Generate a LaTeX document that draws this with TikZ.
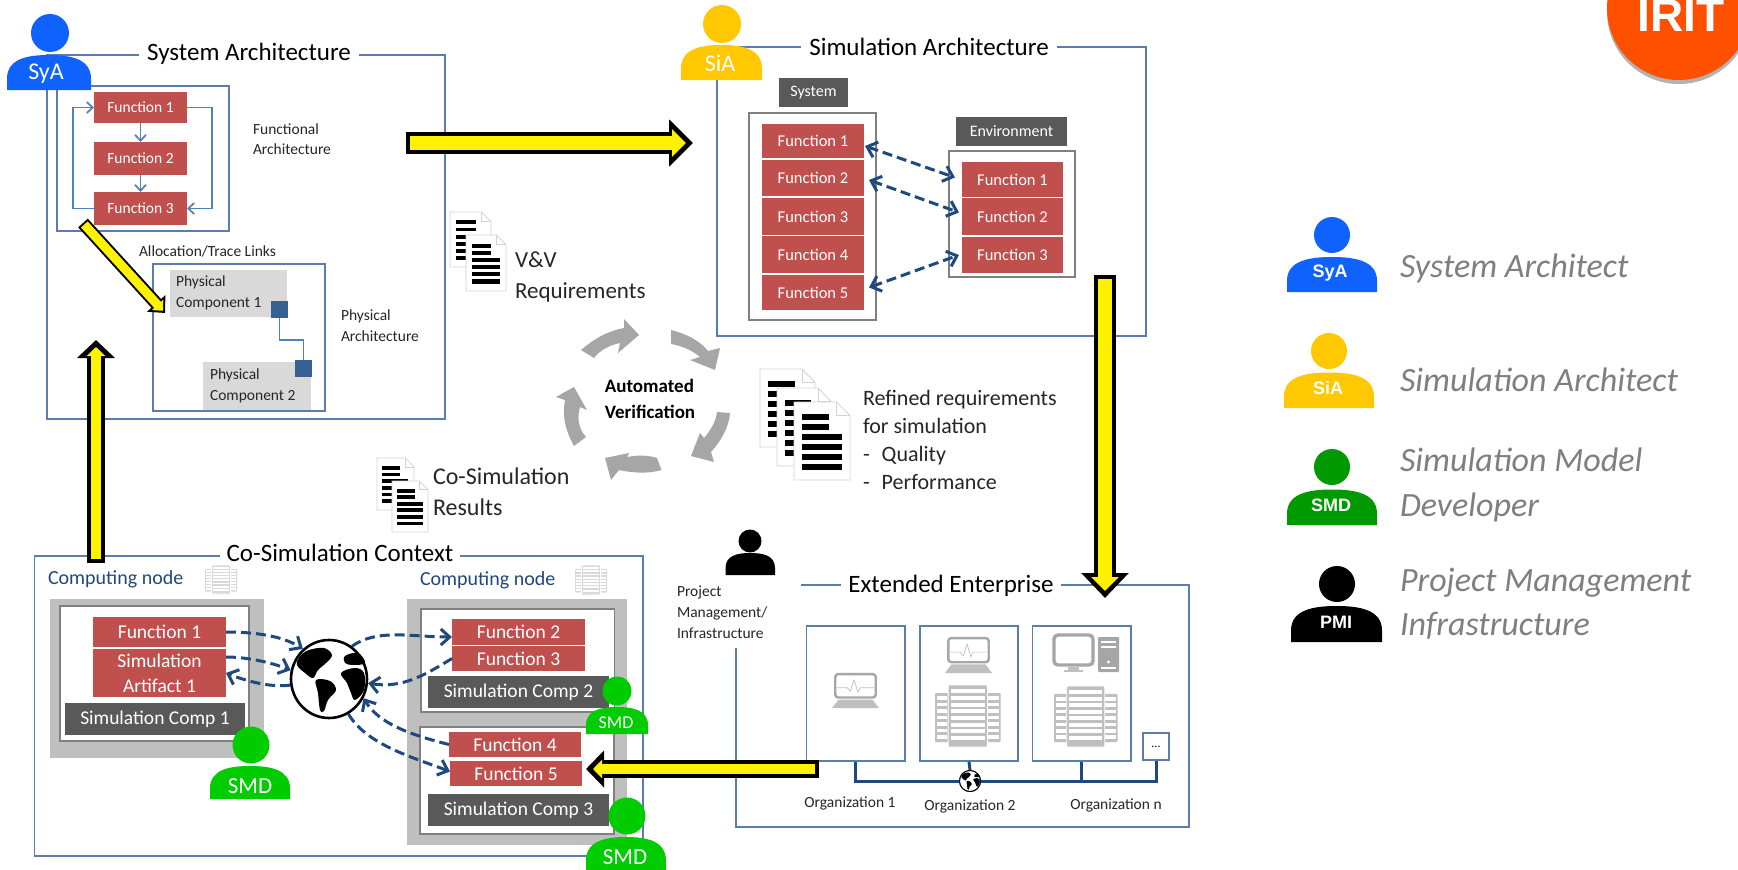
\documentclass[tikz,border=0pt]{standalone}
\usepackage{fontspec}
\setmainfont{Carlito}
\newfontfamily\lsans{Liberation Sans}
\usetikzlibrary{arrows.meta,calc,shapes.geometric}
\definecolor{fnred}{HTML}{C0504D}
\definecolor{frameblue}{HTML}{5A7DAD}
\definecolor{linkblue}{HTML}{4F81BD}
\definecolor{dashblue}{HTML}{1F497D}
\definecolor{darkbox}{HTML}{595959}
\definecolor{lightbox}{HTML}{D9D9D9}
\definecolor{midbox}{HTML}{BFBFBF}
\definecolor{cyc}{HTML}{A6A6A6}
\definecolor{compblue}{HTML}{366092}
\definecolor{syablue}{HTML}{0F62FE}
\definecolor{siayellow}{HTML}{FFC800}
\definecolor{smdgreen}{HTML}{00CC00}
\definecolor{legendgreen}{HTML}{009900}
\definecolor{logoorange}{HTML}{FF5000}
\definecolor{legendgrey}{HTML}{7F7F7F}
\tikzset{
  fs/.style 2 args={font=\fontsize{#1}{#2}\selectfont},
  txt/.style={inner sep=0pt,outer sep=0pt,align=left,text=black!85},
  box/.style={inner sep=0pt,outer sep=0pt,align=center},
  fn/.style={box,fill=fnred,text=white},
  dark/.style={box,fill=darkbox,text=white},
  frame/.style={draw=frameblue,line width=1.6pt},
  greyframe/.style={draw=gray,line width=1.6pt,fill=white},
  title/.style={fill=white,inner ysep=1pt,outer sep=0pt,text=black,fs={25}{30}},
  link/.style={draw=linkblue,line width=1.7pt,-{Straight Barb[length=6pt,width=11pt]}},
  dsh/.style={draw=dashblue,line width=3pt,dash pattern=on 10pt off 5pt,-{Straight Barb[length=9pt,width=16pt]}},
  ddsh/.style={dsh,{Straight Barb[length=9pt,width=16pt]}-{Straight Barb[length=9pt,width=16pt]}},
  bus/.style={draw=dashblue,line width=3pt,line join=miter},
  cycarrow/.style={fill=cyc,draw=none},
  persontext/.style={inner sep=0pt,text=white},
}
% box by corners: name, x1,y1,x2,y2, style, text
\newcommand{\bx}[7]{\node[#6,minimum width={#4-#2},minimum height={#5-#3}] (#1) at ({(#2+#4)/2},{(#3+#5)/2}) {#7};}
% person: head cx,cy,r ; body x1,y1,x2,y2 ; colour ; name ; label x,y ; label font
\newcommand{\person}[9]{%
  \fill[#8] (#1,#2) circle[radius=#3];
  \fill[#8] (#4,#7) -- (#4,{#7-0.32*(#7-#5)}) .. controls (#4,{#5+0.1*(#7-#5)}) and ({#4+0.25*(#6-#4)},#5) .. ({(#4+#6)/2},#5)
     .. controls ({#6-0.25*(#6-#4)},#5) and (#6,{#5+0.1*(#7-#5)}) .. (#6,{#7-0.32*(#7-#5)}) -- (#6,#7) -- cycle;
  #9}
% document icon
\newcommand{\docu}[4]{%
  \pgfmathsetmacro{\dw}{#3-#1}\pgfmathsetmacro{\dh}{#4-#2}
  \begin{scope}[shift={(#1,#2)}]
    \filldraw[fill=white,draw=gray!35,line width=.8pt] (0,0) -- ({.76*\dw},0) -- (\dw,{.17*\dh}) -- (\dw,\dh) -- (0,\dh) -- cycle;
    \draw[gray!35,line width=.6pt] ({.76*\dw},0) -- ({.76*\dw},{.17*\dh}) -- (\dw,{.17*\dh});
    \foreach \i/\e in {0/.63,1/.63,2/.85,3/.85,4/.85,5/.85}
      \draw[black,line width={.072*\dh}] ({.14*\dw},{(.19+.128*\i)*\dh}) -- ({\e*\dw},{(.19+.128*\i)*\dh});
  \end{scope}}
% server cluster
\newcommand{\server}[5]{%
  \pgfmathsetmacro{\sw}{#3-#1}\pgfmathsetmacro{\sh}{#4-#2}
  \begin{scope}[shift={(#1,#2)}]
    \fill[#5,rounded corners=1pt] (0,{.13*\sh}) rectangle (\sw,{.92*\sh});
    \foreach \i in {0,...,6}{
      \fill[white] ({.03*\sw},{(.18+.105*\i)*\sh}) rectangle ({.19*\sw},{(.22+.105*\i)*\sh+.02*\sh});
      \fill[white] ({.81*\sw},{(.18+.105*\i)*\sh}) rectangle ({.97*\sw},{(.22+.105*\i)*\sh+.02*\sh});}
    \filldraw[fill=#5,draw=white,line width=.8pt,rounded corners=1pt] ({.2*\sw},0) rectangle ({.8*\sw},\sh);
    \foreach \i in {0,...,7}
      \fill[white] ({.24*\sw},{(.07+.107*\i)*\sh}) rectangle ({.76*\sw},{(.07+.107*\i)*\sh+.065*\sh});
  \end{scope}}
% laptop
\newcommand{\laptop}[4]{%
  \pgfmathsetmacro{\lw}{#3-#1}\pgfmathsetmacro{\lh}{#4-#2}
  \begin{scope}[shift={(#1,#2)}]
    \draw[cyc,line width=2.4pt,fill=white,rounded corners=3pt] ({.07*\lw},{.03*\lh}) rectangle ({.93*\lw},{.7*\lh});
    \draw[midbox,line width=.7pt] ({.1*\lw},{.42*\lh}) -- ({.32*\lw},{.42*\lh}) -- ({.39*\lw},{.52*\lh}) -- ({.47*\lw},{.2*\lh}) -- ({.55*\lw},{.55*\lh}) -- ({.6*\lw},{.42*\lh}) -- ({.9*\lw},{.42*\lh});
    \fill[midbox] (0,\lh) -- ({.14*\lw},{.76*\lh}) -- ({.86*\lw},{.76*\lh}) -- (\lw,\lh) -- cycle;
  \end{scope}}
% globe continents
\newcommand{\continents}[3]{%
  \begin{scope}[shift={(#1,#2)},scale=#3]
    \fill[black] plot[smooth cycle,tension=.6] coordinates {(-20,-29) (-5,-31) (3,-24) (-3,-16) (-11,-9) (-16,-1) (-24,-6) (-32,-14) (-29,-23)};
    \fill[black] plot[smooth cycle,tension=.6] coordinates {(-13,1) (1,2) (7,11) (-1,21) (-5,32) (-9,31) (-11,14)};
    \fill[black] plot[smooth cycle,tension=.6] coordinates {(12,-6) (26,-11) (35,-6) (35,11) (26,21) (22,14) (18,4)};
    \fill[black] plot[smooth cycle,tension=.6] coordinates {(16,-23) (29,-26) (36,-16) (24,-14) (16,-16)};
  \end{scope}}
% block arrow: from, to, outer shaft, inner shaft, head len, head width, inset tail, inset tip, inner len, inner width
\newcommand{\blockarrow}[8]{%
  \draw[black,line width=#3pt,-{Triangle[length=#4pt,width=#5pt]}] (#1) -- (#2);
  \draw[yellow,line width=#6pt,shorten <=4pt,shorten >=7pt,-{Triangle[length=#7pt,width=#8pt]}] (#1) -- (#2);}
\begin{document}
\begin{tikzpicture}[x=1pt,y=-1pt]
\useasboundingbox (0,0) rectangle (1738,870);
\fill[white] (0,0) rectangle (1738,870);

% logo
\fill[gray!60] (1679,12) circle[radius=72];
\fill[logoorange] (1679,8) circle[radius=72];
\node[anchor=base west,inner sep=0pt,text=white,font=\lsans\bfseries\fontsize{46}{46}\selectfont] (logo) at (1637,31) {IRIT};

% ---------- System Architecture
\bx{sysframe}{47}{55}{445}{419}{frame}{}
\node[title,inner xsep=8pt] (systitle) at (249,54) {System Architecture};
\bx{funcbox}{57}{86}{229}{231}{frame}{}
\bx{f1}{94}{92}{187}{123}{fn,fs={15.5}{18}}{Function 1}
\bx{f2}{94}{142}{187}{175}{fn,fs={15.5}{18}}{Function 2}
\bx{f3}{94}{192}{187}{225}{fn,fs={15.5}{18}}{Function 3}
\draw[link] (f1.south) -- (f2.north);
\draw[link] (f2.south) -- (f3.north);
\draw[link] (f3.west) -- ++(-21,0) |- (f1.west);
\draw[link] (f1.east) -- ++(25,0) |- (f3.east);
\node[txt,anchor=west,fs={15.5}{20.5}] (functxt) at (253,139) {Functional\\Architecture};
\node[txt,anchor=west,fs={15.5}{18}] (alloctxt) at (139,251) {Allocation/Trace Links};
\bx{physbox}{153}{264}{325}{411}{frame}{}
\bx{pc1}{170}{270}{287}{317}{box,fill=lightbox}{}
\bx{pc2}{203}{362}{311}{410}{box,fill=lightbox}{}
\node[txt,anchor=west,fs={15.5}{20.5}] (pc1txt) at (176,293) {Physical\\Component 1};
\node[txt,anchor=west,fs={15.5}{20.5}] (pc2txt) at (210,386) {Physical\\Component 2};
\bx{sq1}{271}{301}{288}{318}{box,fill=compblue}{}
\bx{sq2}{295}{360}{312}{377}{box,fill=compblue}{}
\draw[draw=linkblue,line width=1.6pt] (sq1.south) -- ++(0,22) -| (sq2.north);
\node[txt,anchor=west,fs={15.5}{21}] (phystxt) at (341,326) {Physical\\Architecture};

% ---------- Simulation Architecture
\bx{simframe}{717}{47}{1146}{336}{frame}{}
\node[title,inner xsep=8pt] (simtitle) at (929,47) {Simulation Architecture};
\bx{syslabel}{779}{78}{848}{107}{dark,fs={16}{18}}{System}
\bx{envlabel}{956}{117}{1067}{146}{dark,fs={16}{18}}{Environment}
\bx{sysbox}{749}{113}{876}{320}{greyframe}{}
\bx{envbox}{949}{151}{1075}{277}{greyframe}{}
\bx{s1}{762}{124}{864}{158}{fn,fs={16.5}{18}}{Function 1}
\bx{s2}{762}{160}{864}{196}{fn,fs={16.5}{18}}{Function 2}
\bx{s3}{762}{198}{864}{235}{fn,fs={16.5}{18}}{Function 3}
\bx{s4}{762}{236}{864}{273}{fn,fs={16.5}{18}}{Function 4}
\bx{s5}{762}{275}{864}{310}{fn,fs={16.5}{18}}{Function 5}
\bx{e1}{962}{162}{1063}{197}{fn,fs={16.5}{18}}{Function 1}
\bx{e2}{962}{198}{1063}{235}{fn,fs={16.5}{18}}{Function 2}
\bx{e3}{962}{237}{1063}{273}{fn,fs={16.5}{18}}{Function 3}
\draw[ddsh] ([xshift=1pt,yshift=-5pt]s1.east) -- ([xshift=-7pt,yshift=2pt]e1.west);
\draw[ddsh] ([xshift=5pt,yshift=-2pt]s2.east) -- ([xshift=-3pt,yshift=4pt]e2.west);
\draw[ddsh] ([xshift=5pt,yshift=5pt]s5.east) -- ([xshift=-3pt]e3.west);

% ---------- Middle documents and cycle
\docu{450}{212}{491}{267}
\docu{466}{235}{506}{291}
\node[txt,anchor=west,fs={23}{31}] (vv) at (515,277) {V\&V\\Requirements};
\docu{760}{369}{815}{447}
\docu{777}{388}{831}{466}
\docu{794}{402}{850}{480}
\node[txt,anchor=west,fs={22}{28}] (ref) at (863,440) {Refined requirements\\for simulation\\-\hspace{12pt}Quality\\-\hspace{12pt}Performance};
\docu{377}{458}{414}{510}
\docu{392}{481}{428}{532}
\node[txt,anchor=west,fs={24}{31}] (cores) at (433,492) {Co-Simulation\\Results};
\node[txt,anchor=center,align=left,text=black,fs={19}{26},font=\fontsize{19}{26}\selectfont\bfseries] (auto) at (650,399) {Automated\\Verification};
\fill[cycarrow] (581,350) .. controls (595,338) and (608,331) .. (624,328) -- (624,319) -- (639,335) -- (618,353) -- (620,343) .. controls (610,345) and (600,350) .. (594,358) -- cycle;
\fill[cycarrow] (671,330) .. controls (687,334) and (700,341) .. (708,351) -- (720,348) -- (715,370) -- (690,360) -- (700,357) .. controls (693,351) and (683,346) .. (671,344) -- cycle;
\fill[cycarrow] (730,413) .. controls (729,427) and (721,441) .. (711,452) -- (714,462) -- (691,456) -- (700,433) -- (704,438) .. controls (711,430) and (716,421) .. (717,412) -- cycle;
\fill[cycarrow] (657,458) .. controls (648,455) and (638,455) .. (627,457) -- (629,453) -- (605,458) -- (611,480) -- (619,470) .. controls (633,473) and (648,474) .. (661.5,470) -- cycle;
\fill[cycarrow] (574,446) .. controls (565,430) and (562,415) .. (565,400) -- (556,397) -- (574,387) -- (587,410) -- (580,407) .. controls (577,417) and (578,428) .. (586,437) -- cycle;

% ---------- Co-Simulation Context
\bx{coframe}{34.5}{556}{643}{856}{frame}{}
\node[title,inner xsep=7pt] (cotitle) at (340,553) {Co-Simulation Context};
\node[txt,anchor=west,text=dashblue,fs={20}{24}] (cn1) at (48,579) {Computing node};
\node[txt,anchor=west,text=dashblue,fs={20}{24}] (cn2) at (420,580) {Computing node};
\server{205}{565}{237}{594}{lightbox}
\server{575}{565}{607}{595}{lightbox}
\bx{gl}{50}{599}{264}{758}{box,fill=midbox}{}
\bx{il}{60}{606}{249}{741}{greyframe}{}
\bx{gr}{407}{599}{627}{845}{box,fill=midbox}{}
\bx{ir1}{421}{609}{614.5}{712}{greyframe}{}
\bx{ir2}{420}{727}{614}{834}{greyframe}{}
\bx{cf1}{93}{617}{226}{647}{fn,fs={19.5}{24}}{Function 1}
\bx{art}{93}{649}{226}{697}{fn,fs={19.5}{25}}{Simulation\\Artifact 1}
\bx{comp1}{65}{703}{245}{735}{dark,fs={19.5}{24}}{Simulation Comp 1}
\bx{cf2}{452}{619}{585}{645}{fn,fs={19.5}{24}}{Function 2}
\bx{cf3}{452}{646}{585}{671}{fn,fs={19.5}{24}}{Function 3}
\bx{comp2}{428}{676}{609}{708}{dark,fs={19.5}{24}}{Simulation Comp 2}
\bx{cf4}{449}{732}{581}{757}{fn,fs={19.5}{24}}{Function 4}
\bx{cf5}{450}{761}{582}{786}{fn,fs={19.5}{24}}{Function 5}
\bx{comp3}{428}{794}{609}{826}{dark,fs={19.5}{24}}{Simulation Comp 3}
\node[ellipse,draw=black,line width=2.6pt,fill=white,minimum width=76pt,minimum height=78pt,inner sep=0pt] (earth) at (329,679) {};
\continents{329}{679}{1}
\draw[dsh] (cf1.east) .. controls +(25,0) and +(-22,-14) .. (earth.131);
\draw[dsh] ([yshift=16pt]art.east) .. controls +(20,0) and +(-20,-8) .. (earth.167);
\draw[dsh] (earth.189) .. controls +(-22,3) and +(15,6) .. ([yshift=0pt]art.east);
\draw[dsh] (earth.55) .. controls +(25,-18) and +(-40,0) .. ([yshift=-5pt]cf2.west);
\draw[dsh] (cf3.west) .. controls +(-25,15) and +(35,6) .. (earth.-6);
\draw[dsh] (cf4.west) .. controls +(-40,-10) and +(15,25) .. (earth.-29);
\draw[dsh] (earth.-61) .. controls +(18,30) and +(-40,-15) .. ([yshift=2pt]cf5.west);

% ---------- Extended Enterprise
\coordinate (eeleft) at (736,648);
\coordinate (eestart) at (801,585);
\draw[frame] (eestart) -- (1189,585) -- (1189,827) -- (736,827) -- (eeleft);
\node[title,inner xsep=7pt] (eetitle) at (951,586) {Extended Enterprise};
\node[txt,anchor=west,fs={15.5}{21}] (pm) at (677,612) {Project\\Management/\\Infrastructure};
\bx{org1}{806.5}{626}{905}{761}{frame,fill=white}{}
\bx{org2}{920}{626}{1018}{761}{frame,fill=white}{}
\bx{org3}{1032.5}{626}{1131}{761}{frame,fill=white}{}
\bx{more}{1143}{733}{1169}{760}{frame,fill=white,fs={12}{14},line width=2pt}{...}
\laptop{832}{673}{879}{708}
\laptop{945}{637}{992}{673}
\server{935}{685}{1000.5}{747}{midbox}
\server{1054}{686}{1117.5}{747}{midbox}
% desktop
\draw[cyc,line width=3.4pt,fill=white,rounded corners=4pt] (1054,635) rectangle (1093,665);
\fill[midbox] (1068,667) rectangle (1079,670);
\fill[midbox] (1064,670) rectangle (1083,672);
\fill[cyc,rounded corners=1pt] (1098,637) rectangle (1119,672);
\fill[white] (1101,641) rectangle (1116,643);
\fill[white] (1101,646) rectangle (1116,648);
\fill[white] (1101,667) rectangle (1116,668.5);
\fill[white] (1108.5,662) circle[radius=1.6];
\node[circle,minimum size=21pt,draw=black,line width=1pt,fill=white,inner sep=0pt] (net) at (970,781) {};
\draw[bus] (org1.south) |- (net.west);
\draw[bus] (org2.south) -- (net.north);
\draw[bus] (net.east) -| (more.south);
\draw[bus] (org3.south) -- (org3.south |- net.east);
\node[circle,minimum size=21pt,draw=black,line width=1pt,fill=white,inner sep=0pt] at (net) {};
\continents{970}{781}{.27}
\node[txt,anchor=center,fs={15.5}{18}] (o1) at (850,803) {Organization 1};
\node[txt,anchor=center,fs={15.5}{18}] (o2) at (970,806) {Organization 2};
\node[txt,anchor=center,fs={15.5}{18}] (o3) at (1116,805) {Organization n};

% ---------- Yellow block arrows
\coordinate (ya1) at (406,143);  \coordinate (yb1) at (693,143);
\coordinate (ya2) at (1105,275); \coordinate (yb2) at (1105,598);
\coordinate (ya3) at (819,769);  \coordinate (yb3) at (586,769);
\coordinate (ya4) at (96,563);   \coordinate (yb4) at (96,340);
\coordinate (ya5) at (83,223);   \coordinate (yb5) at (165,313);
\blockarrow{ya1}{yb1}{22}{24}{46}{14}{14}{27}
\blockarrow{ya2}{yb2}{22}{25}{46}{14}{14}{27}
\blockarrow{ya3}{yb3}{18}{18}{36}{10}{9}{18}
\blockarrow{ya4}{yb4}{18}{18}{37}{10}{9}{18}
\draw[black,line width=13pt,-{Triangle[length=13pt,width=24pt]}] (ya5) -- (yb5);
\draw[yellow,line width=9pt,shorten <=2pt,shorten >=3pt,-{Triangle[length=8pt,width=15pt]}] (ya5) -- (yb5);

% ---------- People
\person{50}{33}{19}{7}{55}{91}{90}{syablue}{\node[persontext,fs={24}{26}] (sya) at (46,74) {SyA};}
\person{722}{24}{19}{681}{45}{762}{80}{siayellow}{\node[persontext,fs={24}{26}] (sia) at (720,63) {SiA};}
\person{251}{745}{18.5}{210}{766}{290}{799}{smdgreen}{\node[persontext,fs={23}{26}] (smd1) at (250,786) {SMD};}
\person{617}{691}{14.5}{586}{707}{648}{734}{smdgreen}{\node[persontext,fs={18}{20}] (smd2) at (616,723) {SMD};}
\person{627}{816}{18.5}{586}{837}{666}{872}{smdgreen}{\node[persontext,fs={23}{26}] (smd3) at (625,857) {SMD};}
\person{750}{541}{11.5}{725.5}{553}{775}{575}{black}{}
% legend
\person{1332}{235}{18}{1287}{257}{1377}{292}{syablue}{\node[persontext,font=\lsans\bfseries\fontsize{18}{20}\selectfont] (lsya) at (1330,273) {SyA};}
\person{1329}{351}{18}{1284}{372.5}{1374}{408}{siayellow}{\node[persontext,font=\lsans\bfseries\fontsize{18}{20}\selectfont] (lsia) at (1328,388) {SiA};}
\person{1332}{467}{18}{1287}{489.5}{1377}{525}{legendgreen}{\node[persontext,font=\lsans\bfseries\fontsize{18}{20}\selectfont] (lsmd) at (1331,505) {SMD};}
\person{1337}{584}{18}{1291}{606}{1382}{642}{black}{\node[persontext,font=\lsans\bfseries\fontsize{18}{20}\selectfont] (lpmi) at (1336,622) {PMI};}
\node[txt,anchor=west,text=legendgrey,font=\fontsize{34}{44}\selectfont\itshape] (l1) at (1400,268.5) {System Architect};
\node[txt,anchor=west,text=legendgrey,font=\fontsize{34}{44}\selectfont\itshape] (l2) at (1400,380) {Simulation Architect};
\node[txt,anchor=west,text=legendgrey,font=\fontsize{34}{45}\selectfont\itshape] (l3) at (1400,484.5) {Simulation Model\\Developer};
\node[txt,anchor=west,text=legendgrey,font=\fontsize{34}{44}\selectfont\itshape] (l4) at (1400,604) {Project Management\\Infrastructure};
\end{tikzpicture}
\end{document}
